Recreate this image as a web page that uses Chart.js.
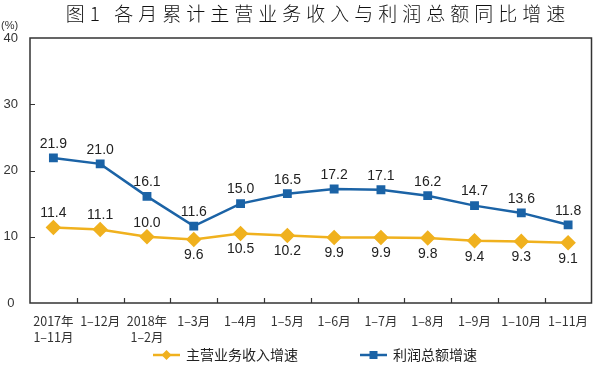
<!DOCTYPE html>
<html>
<head>
<meta charset="utf-8">
<script src="https://cdn.jsdelivr.net/npm/chart.js@4"></script>
<style>
body{margin:0;background:#fff}
#wrap{width:600px;height:366px;position:relative}
</style>
</head>
<body>
<div id="wrap"><canvas id="chart" width="600" height="366"></canvas></div>
<script>
const labels = [['2017年','1–11月'],'1–12月',['2018年','1–2月'],'1–3月','1–4月','1–5月','1–6月','1–7月','1–8月','1–9月','1–10月','1–11月'];
const revenue = [11.4,11.1,10.0,9.6,10.5,10.2,9.9,9.9,9.8,9.4,9.3,9.1];
const profit = [21.9,21.0,16.1,11.6,15.0,16.5,17.2,17.1,16.2,14.7,13.6,11.8];
const yTicks = [0,10,20,30,40];
const title = '图1 各月累计主营业务收入与利润总额同比增速';

const BLUE = '#1b63a6', GOLD = '#f0b11e', INK = '#222';
const CJK = '"Noto Sans CJK SC", "Liberation Sans", sans-serif';

// box, inward ticks, labels, title, legend
const decor = {
  id: 'decor',
  afterDatasetsDraw(chart){
    const c = chart.ctx, a = chart.chartArea;
    const x = chart.scales.x, y = chart.scales.y;
    c.save();
    c.strokeStyle = '#333'; c.lineWidth = 1.5;
    c.strokeRect(a.left, a.top, a.right - a.left, a.bottom - a.top);
    c.lineWidth = 1.2;
    c.beginPath();
    yTicks.slice(1, -1).forEach(v => {
      const py = Math.round(y.getPixelForValue(v)) + 0.5;
      c.moveTo(a.left, py); c.lineTo(a.left + 5, py);
    });
    for (let i = 1; i < labels.length; i++) {
      const px = Math.round((x.getPixelForValue(i - 1) + x.getPixelForValue(i)) / 2) + 0.5;
      c.moveTo(px, a.bottom); c.lineTo(px, a.bottom - 5);
    }
    c.stroke();

    // value labels
    c.fillStyle = INK;
    c.font = '14px "Liberation Sans", Arial, sans-serif';
    c.textAlign = 'center';
    chart.getDatasetMeta(1).data.forEach((p, i) => {
      c.textBaseline = 'bottom';
      c.fillText(profit[i].toFixed(1), p.x, p.y - 7);
    });
    chart.getDatasetMeta(0).data.forEach((p, i) => {
      if (i < 3) { c.textBaseline = 'bottom'; c.fillText(revenue[i].toFixed(1), p.x, p.y - 7); }
      else { c.textBaseline = 'top'; c.fillText(revenue[i].toFixed(1), p.x, p.y + 9); }
    });

    // title and unit
    c.font = '300 19px ' + CJK;
    c.letterSpacing = '5px';
    c.textBaseline = 'middle';
    c.fillStyle = '#111';
    c.fillText(title, 318, 14);
    c.letterSpacing = '0px';
    c.font = '11px "Liberation Sans", Arial, sans-serif';
    c.textAlign = 'left';
    c.fillStyle = '#333';
    c.fillText('(%)', 1, 26);

    // legend
    const ly = 355;
    const items = [
      {x: 153, color: GOLD, shape: 'diamond', text: '主营业务收入增速'},
      {x: 360, color: BLUE, shape: 'square', text: '利润总额增速'}
    ];
    items.forEach(it => {
      c.strokeStyle = it.color; c.fillStyle = it.color; c.lineWidth = 2.5;
      c.beginPath(); c.moveTo(it.x, ly); c.lineTo(it.x + 27, ly); c.stroke();
      const cx = it.x + 13.5;
      c.beginPath();
      if (it.shape === 'diamond') {
        c.moveTo(cx, ly - 5); c.lineTo(cx + 5, ly); c.lineTo(cx, ly + 5); c.lineTo(cx - 5, ly);
      } else {
        c.rect(cx - 4, ly - 4, 8, 8);
      }
      c.closePath(); c.fill();
      c.fillStyle = '#222';
      c.font = '14px ' + CJK;
      c.fillText(it.text, it.x + 33, ly);
    });
    c.restore();
  }
};

new Chart(document.getElementById('chart'), {
  type: 'line',
  data: {
    labels: labels,
    datasets: [
      {label: '主营业务收入增速', data: revenue, borderColor: GOLD, backgroundColor: GOLD,
       borderWidth: 2.5, pointStyle: 'rectRot', pointRadius: 6, pointHoverRadius: 6, tension: 0},
      {label: '利润总额增速', data: profit, borderColor: BLUE, backgroundColor: BLUE,
       borderWidth: 2.5, pointStyle: 'rect', pointRadius: 4.5, pointHoverRadius: 4.5, tension: 0}
    ]
  },
  options: {
    responsive: false,
    animation: false,
    layout: {padding: {top: 38, right: 2, left: 0, bottom: 0}},
    plugins: {legend: {display: false}, tooltip: {enabled: false}, title: {display: false}},
    scales: {
      x: {
        offset: true,
        grid: {display: false},
        border: {display: false},
        ticks: {color: '#333', font: {family: CJK, size: 12.5, lineHeight: 1.3}, maxRotation: 0, autoSkip: false, padding: 2},
        afterFit: s => { s.height = 63; }
      },
      y: {
        min: 0, max: 40,
        afterBuildTicks: s => { s.ticks = yTicks.map(v => ({value: v})); },
        grid: {display: false},
        border: {display: false},
        ticks: {color: '#333', font: {family: '"Liberation Sans", Arial, sans-serif', size: 13}, crossAlign: 'center', padding: 4},
        afterFit: s => { s.width = 30; }
      }
    }
  },
  plugins: [decor]
});
</script>
</body>
</html>
